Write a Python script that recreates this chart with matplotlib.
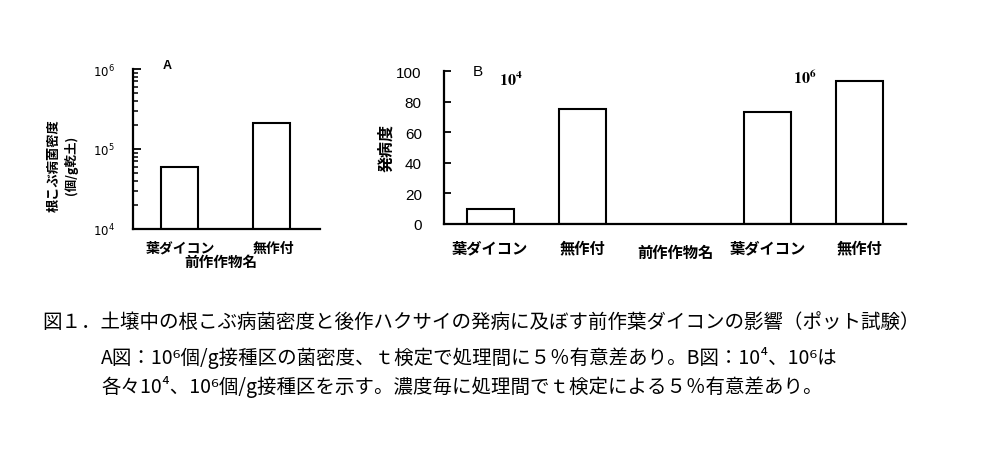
import matplotlib
matplotlib.use("Agg")
import matplotlib.pyplot as plt
from matplotlib.ticker import LogLocator, FixedLocator, NullFormatter, FixedFormatter

# ---- data ----
a_categories = ["葉ダイコン", "無作付"]
a_values = [6.0e4, 2.1e5]
a_ytick_labels = [r"$10^4$", r"$10^5$", r"$10^6$"]

b_categories = ["葉ダイコン", "無作付", "葉ダイコン", "無作付"]
b_positions = [0, 1, 3, 4]
b_values = [10, 75, 73.5, 93.5]
b_group_labels = [r"$\mathbf{10^4}$", r"$\mathbf{10^6}$"]
b_yticks = [0, 20, 40, 60, 80, 100]

xlabel = "前作作物名"
a_ylabel_1 = "根こぶ病菌密度"
a_ylabel_2 = "(個/g乾土)"
b_ylabel = "発病度"
caption = [
    "図１．土壌中の根こぶ病菌密度と後作ハクサイの発病に及ぼす前作葉ダイコンの影響（ポット試験）",
    "A図：10⁶個/g接種区の菌密度、ｔ検定で処理間に５％有意差あり。B図：10⁴、10⁶は",
    "各々10⁴、10⁶個/g接種区を示す。濃度毎に処理間でｔ検定による５％有意差あり。",
]

W, H = 988, 456
CJK = ["Noto Sans CJK JP", "DejaVu Sans"]
LAT = ["Liberation Sans", "DejaVu Sans"]

fig = plt.figure(figsize=(W / 100, H / 100), dpi=100)
fig.patch.set_facecolor("white")

def fx(x):
    return x / W

def fy(y):
    return 1 - y / H

def axes_px(l, t, r, b):
    return fig.add_axes([fx(l), fy(b), (r - l) / W, (b - t) / H])

# ---- Panel A ----
axA = axes_px(133, 70, 320, 230)
axA.bar(range(len(a_values)), a_values, width=0.4, bottom=0,
        color="white", edgecolor="black", linewidth=1.5)
axA.set_yscale("log")
axA.set_ylim(1e4, 1e6)
axA.set_xlim(-0.5, 1.52)
axA.yaxis.set_major_locator(FixedLocator([1e4, 1e5, 1e6]))
axA.yaxis.set_major_formatter(FixedFormatter(a_ytick_labels))
axA.yaxis.set_minor_locator(LogLocator(base=10, subs=range(2, 10)))
axA.yaxis.set_minor_formatter(NullFormatter())
axA.tick_params(axis="y", which="major", direction="in", length=6, width=1.3,
                pad=13, labelsize=8.5)
axA.tick_params(axis="y", which="minor", direction="in", length=3.5, width=1.1)
axA.set_xticks([])
for s in ["top", "right"]:
    axA.spines[s].set_visible(False)
for s in ["left", "bottom"]:
    axA.spines[s].set_linewidth(1.6)
for lab in axA.get_yticklabels():
    lab.set_fontfamily(LAT)

a_label_x = [180, 273]
for cat, xc in zip(a_categories, a_label_x):
    fig.text(fx(xc), fy(249), cat, ha="center", va="center", fontsize=10,
             family=CJK, weight="bold")
fig.text(fx(221), fy(262), xlabel, ha="center", va="center", fontsize=10.5,
         family=CJK, weight="bold")
fig.text(fx(54), fy(166), a_ylabel_1, rotation=90, ha="center", va="center",
         fontsize=9.5, family=CJK, weight="bold")
fig.text(fx(71), fy(165), a_ylabel_2, rotation=90, ha="center", va="center",
         fontsize=9, family=CJK, weight="bold")
fig.text(fx(167), fy(66), "A", ha="center", va="center", fontsize=9,
         family=LAT, weight="bold")

# ---- Panel B ----
axB = axes_px(444, 72, 906, 225)
axB.bar(b_positions, b_values, width=0.51, color="white",
        edgecolor="black", linewidth=1.5)
axB.set_ylim(0, 100)
axB.set_xlim(-0.5, 4.5)
axB.set_yticks(b_yticks)
axB.set_xticks([])
axB.tick_params(axis="y", direction="in", length=5, width=1.3, pad=16,
                labelsize=11)
for lab in axB.get_yticklabels():
    lab.set_fontfamily(LAT)
for s in ["top", "right"]:
    axB.spines[s].set_visible(False)
for s in ["left", "bottom"]:
    axB.spines[s].set_linewidth(1.6)

for cat, pos in zip(b_categories, b_positions):
    axB.text(pos, -15, cat, ha="center", va="center", fontsize=11,
             family=CJK, weight="bold", clip_on=False)
axB.text(2, -18, xlabel, ha="center", va="center", fontsize=11,
         family=CJK, weight="bold", clip_on=False)
fig.text(fx(386), fy(148), b_ylabel, rotation=90, ha="center", va="center",
         fontsize=11.5, family=CJK, weight="bold")
fig.text(fx(478), fy(72), "B", ha="center", va="center", fontsize=11,
         family=LAT)
fig.text(fx(511), fy(80), b_group_labels[0], ha="center", va="center",
         fontsize=11.5, math_fontfamily="stix")
fig.text(fx(805), fy(78), b_group_labels[1], ha="center", va="center",
         fontsize=11.5, math_fontfamily="stix")

# ---- caption ----
fig.text(fx(42), fy(322), caption[0], ha="left", va="center", fontsize=14,
         family=CJK)
fig.text(fx(101), fy(358), caption[1], ha="left", va="center", fontsize=14,
         family=CJK)
fig.text(fx(101), fy(387), caption[2], ha="left", va="center", fontsize=14,
         family=CJK)

fig.savefig("out.png", dpi=100, facecolor="white")
